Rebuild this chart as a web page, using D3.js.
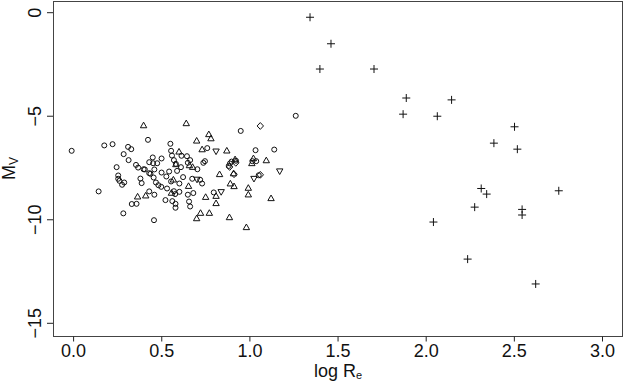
<!DOCTYPE html>
<html>
<head>
<meta charset="utf-8">
<script src="https://cdn.jsdelivr.net/npm/d3@7"></script>
<style>
  body { margin: 0; background: #fff; }
  svg { display: block; font-family: "Liberation Sans", Arial, sans-serif; }
</style>
</head>
<body>
<svg width="624" height="383"></svg>
<script>
// log Re vs Mv, one array per plotting symbol
const circlePts = [
  [-0.011, -6.67], [0.142, -8.63], [0.174, -6.41], [0.221, -6.35], [0.284, -6.83],
  [0.309, -6.48], [0.327, -6.59], [0.312, -7.12], [0.244, -7.46], [0.253, -7.86],
  [0.253, -8.02], [0.260, -8.12], [0.275, -8.31], [0.287, -8.20], [0.282, -9.69],
  [0.330, -9.24], [0.357, -9.23], [0.354, -7.35], [0.366, -7.48], [0.379, -8.01],
  [0.386, -8.23], [0.397, -7.56], [0.404, -7.57], [0.422, -6.14], [0.429, -7.22],
  [0.429, -7.75], [0.436, -7.78], [0.449, -6.99], [0.451, -7.27], [0.454, -7.96],
  [0.458, -7.57], [0.467, -8.20], [0.456, -10.02], [0.429, -8.63], [0.458, -8.79],
  [0.474, -7.27], [0.481, -8.33], [0.499, -7.04], [0.497, -8.41], [0.499, -7.72],
  [0.521, -9.05], [0.526, -7.91], [0.530, -8.49], [0.549, -6.33], [0.553, -6.67],
  [0.558, -6.90], [0.553, -8.15], [0.542, -7.67], [0.569, -7.12], [0.560, -9.10],
  [0.569, -8.62], [0.576, -8.76], [0.578, -9.23], [0.578, -9.42], [0.580, -7.30],
  [0.587, -7.64], [0.600, -8.65], [0.600, -8.25], [0.609, -7.46], [0.612, -6.91],
  [0.621, -7.94], [0.643, -6.93], [0.648, -7.25], [0.648, -8.79], [0.655, -9.12],
  [0.661, -9.36], [0.661, -7.12], [0.673, -8.02], [0.679, -8.71], [0.702, -7.56],
  [0.718, -8.07], [0.729, -8.25], [0.736, -7.25], [0.745, -7.17], [0.758, -6.54],
  [0.795, -8.68], [0.880, -7.40], [0.887, -7.28], [0.896, -7.19], [0.921, -7.15],
  [0.948, -5.71], [1.014, -7.17], [1.032, -6.64], [1.036, -7.17], [1.138, -6.61],
  [1.050, -7.85], [1.260, -4.98]
];

const trianglePts = [
  [0.397, -5.45], [0.639, -5.35], [0.363, -8.89], [0.409, -8.84], [0.555, -8.71],
  [0.566, -8.07], [0.580, -7.33], [0.598, -6.72], [0.652, -8.38], [0.657, -7.38],
  [0.675, -7.46], [0.698, -6.19], [0.729, -6.61], [0.767, -5.88], [0.779, -6.08],
  [0.698, -9.94], [0.720, -9.68], [0.770, -9.68], [0.749, -8.91], [0.808, -9.21],
  [0.808, -8.86], [0.828, -7.81], [0.869, -6.67], [0.884, -9.89], [0.889, -8.26],
  [0.910, -8.39], [0.907, -7.77], [0.916, -7.09], [0.980, -10.37], [0.991, -8.47],
  [0.991, -8.79], [1.011, -7.28], [1.020, -7.04], [1.093, -7.14], [1.120, -8.97]
];

const invTrianglePts = [
  [0.808, -6.69], [0.837, -8.65], [1.023, -8.01], [1.169, -7.65], [0.700, -8.05]
];

const diamondPts = [
  [1.059, -5.47], [1.059, -7.83], [0.910, -7.80], [0.885, -7.45], [0.920, -7.25]
];

const plusPts = [
  [1.341, -0.22], [1.460, -1.50], [1.397, -2.72], [1.704, -2.72], [1.887, -4.12],
  [2.144, -4.21], [1.869, -4.90], [2.063, -5.00], [2.501, -5.51], [2.384, -6.30],
  [2.517, -6.59], [2.312, -8.49], [2.343, -8.76], [2.752, -8.60], [2.275, -9.39],
  [2.544, -9.50], [2.544, -9.77], [2.041, -10.11], [2.235, -11.90], [2.621, -13.10]
];

const xTicks = [0, 0.5, 1, 1.5, 2, 2.5, 3];
const yTicks = [0, -5, -10, -15];

const svg = d3.select("svg");
const box = { left: 53, right: 623, top: 1, bottom: 336 };

const x = d3.scaleLinear().domain([0, 3]).range([73.6, 602.5]);
const y = d3.scaleLinear().domain([0, -15]).range([12.7, 323.3]);

// frame
svg.append("rect")
  .attr("x", box.left + 0.5).attr("y", box.top + 0.5)
  .attr("width", box.right - box.left - 1).attr("height", box.bottom - box.top)
  .attr("fill", "none").attr("stroke", "#444").attr("stroke-width", 1);

// x axis
const xAxis = svg.append("g").attr("transform", `translate(0,${box.bottom + 0.5})`);
xAxis.selectAll("line").data(xTicks).enter().append("line")
  .attr("x1", d => x(d)).attr("x2", d => x(d))
  .attr("y1", 0).attr("y2", 5).attr("stroke", "#222");
xAxis.selectAll("text").data(xTicks).enter().append("text")
  .attr("x", d => x(d)).attr("y", 20)
  .attr("text-anchor", "middle").attr("font-size", 18).attr("fill", "#111")
  .text(d => d3.format(".1f")(d));

// y axis (labels rotated, like R's default)
const yAxis = svg.append("g");
yAxis.selectAll("line").data(yTicks).enter().append("line")
  .attr("x1", box.left).attr("x2", box.left - 6)
  .attr("y1", d => y(d)).attr("y2", d => y(d)).attr("stroke", "#222");
yAxis.selectAll("text").data(yTicks).enter().append("text")
  .attr("transform", d => `translate(40.5,${y(d)}) rotate(-90)`)
  .attr("text-anchor", "middle").attr("font-size", 18).attr("fill", "#111")
  .text(d => d === 0 ? "0" : "\u2212" + Math.abs(d));

// axis titles
const xl = svg.append("text")
  .attr("x", (box.left + box.right) / 2).attr("y", 377)
  .attr("text-anchor", "middle").attr("font-size", 18).attr("fill", "#111");
xl.append("tspan").text("log R");
xl.append("tspan").attr("font-size", 11).attr("dy", 2).text("e");

const yl = svg.append("text")
  .attr("transform", `translate(15,${(box.top + box.bottom) / 2}) rotate(-90)`)
  .attr("text-anchor", "middle").attr("font-size", 18).attr("fill", "#111");
yl.append("tspan").text("M");
yl.append("tspan").attr("font-size", 12).attr("dy", 3).text("V");

// symbols
const pts = svg.append("g").attr("fill", "none").attr("stroke", "#111").attr("stroke-width", 1);

pts.selectAll(".c").data(circlePts).enter().append("circle")
  .attr("cx", d => x(d[0])).attr("cy", d => y(d[1])).attr("r", 2.5);

const tri = "M0,-3.4L3.2,2.2L-3.2,2.2Z";
const invTri = "M0,3.4L3.2,-2.2L-3.2,-2.2Z";
const diamond = "M0,-3.4L3.2,0L0,3.4L-3.2,0Z";
const plus = "M-4,0H4M0,-4V4";

function drawSym(data, d, cls) {
  pts.selectAll("." + cls).data(data).enter().append("path")
    .attr("class", cls)
    .attr("transform", p => `translate(${x(p[0])},${y(p[1])})`)
    .attr("d", d);
}
drawSym(trianglePts, tri, "t");
drawSym(invTrianglePts, invTri, "v");
drawSym(diamondPts, diamond, "dm");
drawSym(plusPts, plus, "p");
</script>
</body>
</html>
